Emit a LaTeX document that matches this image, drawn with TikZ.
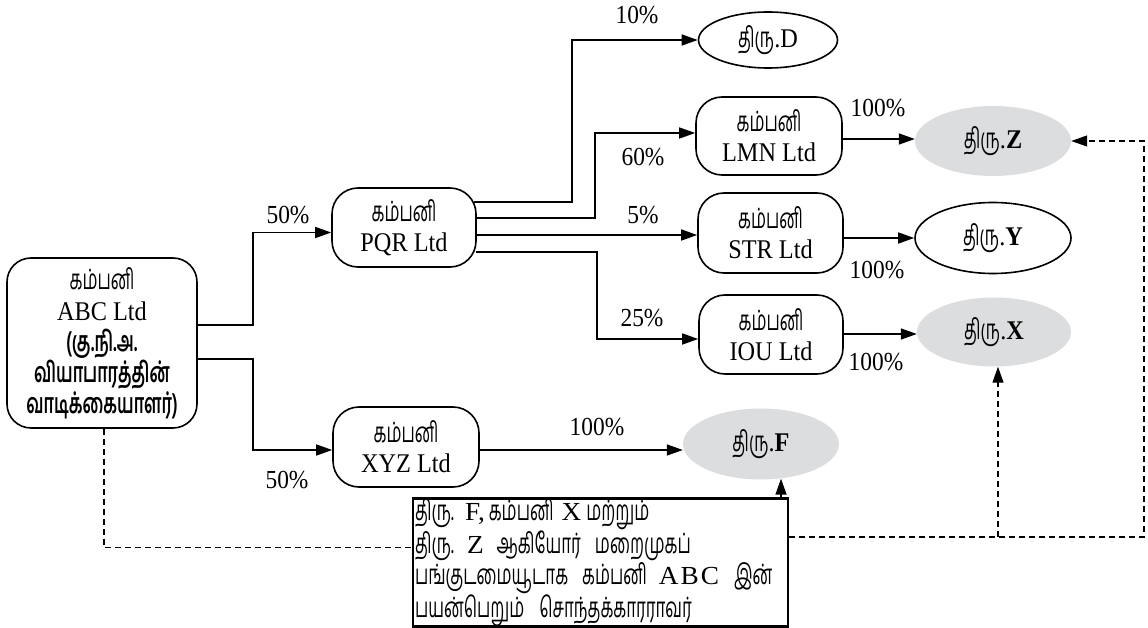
\documentclass[tikz,border=0pt]{standalone}
\usepackage{fontspec}
\setmainfont{Liberation Serif}[FakeStretch=0.9]
\newfontfamily\nl{Liberation Serif}[FakeStretch=1.05]
\newfontfamily\ta[Script=Tamil,FakeStretch=0.6]{Hind Madurai}
\usetikzlibrary{arrows.meta,shapes.geometric}
\definecolor{egray}{RGB}{220,221,223}
\newcommand\tco[1]{{\ta\fontsize{28}{30}\selectfont #1}}
\newcommand\tab[1]{{\ta\bfseries\fontsize{28}{31}\selectfont #1}}
\newcommand\tno[1]{{\ta\fontsize{28}{31}\selectfont #1}}
\newcommand\tel[1]{{\ta\fontsize{28}{30}\selectfont #1}}
\begin{document}
\begin{tikzpicture}[x=1pt,y=-1pt,
  co/.style={draw, line width=1.6pt, rounded corners=26pt, minimum width=145pt, minimum height=79pt, inner sep=0pt, align=center, font=\fontsize{27}{30}\selectfont},
  el/.style={ellipse, minimum width=156pt, minimum height=70pt, inner sep=0pt, font=\fontsize{27}{30}\selectfont},
  pe/.style={el, fill=egray},
  pw/.style={el, draw, line width=1.6pt},
  lab/.style={inner sep=0pt, font=\fontsize{26}{30}\selectfont},
  arr/.style={line width=1.5pt, -{Triangle[length=16pt,width=11pt]}},
  dsh/.style={line width=1.2pt, dash pattern=on 6pt off 4pt},
  darr/.style={dsh, -{Triangle[length=16pt,width=11pt]}}]
\useasboundingbox (0,0) rectangle (1148,628);

% nodes
\node[co, minimum width=190pt, minimum height=170pt, rounded corners=24pt, font=\fontsize{27}{31}\selectfont] (ABC) at (102,343)
  {\tco{கம்பனி}\\ABC Ltd\\\tab{(கு.நி.அ.}\\\tab{வியாபாரத்தின்}\\\tab{வாடிக்கையாளர்)}};
\node[co, minimum width=144pt] (PQR) at (404,227.5) {\tco{கம்பனி}\\PQR Ltd};
\node[co, minimum width=146pt, minimum height=80pt] (XYZ) at (406,447) {\tco{கம்பனி}\\XYZ Ltd};
\node[co, minimum width=146pt, minimum height=78pt] (LMN) at (769,136) {\tco{கம்பனி}\\LMN Ltd};
\node[co, minimum height=80pt] (STR) at (770.5,233) {\tco{கம்பனி}\\STR Ltd};
\node[co, minimum width=144pt] (IOU) at (771,334.5) {\tco{கம்பனி}\\IOU Ltd};

\node[pw, minimum width=139pt, minimum height=56pt] (D) at (768,40) {\tel{திரு}.D};
\node[pe] (Z) at (993,141) {\tel{திரு}.\textbf{Z}};
\node[pw, minimum height=71pt] (Y) at (993,238) {\tel{திரு}.\textbf{Y}};
\node[pe, minimum width=154pt, minimum height=69pt] (X) at (994,332) {\tel{திரு}.\textbf{X}};
\node[pe, minimum height=71pt] (F) at (761,444) {\tel{திரு}.\textbf{F}};

\node[draw, line width=2.5pt, minimum height=125pt, text width=371pt, inner xsep=2pt, inner ysep=0pt, align=left, font=\nl\fontsize{26}{31}\selectfont] (note) at (600.5,562.5)
  {\tno{திரு.}\hspace{11pt}F,\hspace{4pt}\tno{கம்பனி}\hspace{8pt}X\hspace{5pt}\tno{மற்றும்}\\
   \tno{திரு.}\hspace{13pt}Z\hspace{13pt}\tno{ஆகியோர்}\hspace{14pt}\tno{மறைமுகப்}\\
   \tno{பங்குடமையூடாக}\hspace{14pt}\tno{கம்பனி}\hspace{12pt}A\hspace{2pt}B\hspace{2pt}C\hspace{15pt}\tno{இன்}\\
   \tno{பயன்பெறும்}\hspace{15pt}\tno{சொந்தக்காரராவர்}};

% solid connectors
\draw[arr] ([yshift=18pt]ABC.east) -- ++(55,0) |- ([yshift=-5pt]PQR.west);
\draw[arr] ([yshift=-16pt]ABC.east) -- ++(55,0) |- ([yshift=-3pt]XYZ.west);
\draw[arr] ([xshift=-3pt,yshift=25.5pt]PQR.east) -- ++(98,0) |- (D.west);
\draw[arr] ([yshift=9.5pt]PQR.east) -- ++(118,0) |- ([yshift=3pt]LMN.west);
\draw[arr] ([yshift=-7.5pt]PQR.east) -- ([yshift=-2pt]STR.west);
\draw[arr] ([xshift=-1pt,yshift=-24.5pt]PQR.east) -- ++(121,0) |- ([yshift=-4.5pt]IOU.west);
\draw[arr] ([yshift=-3pt]LMN.east) -- ([yshift=2pt]Z.west);
\draw[arr] ([yshift=-5pt]STR.east) -- (Y.west);
\draw[arr] ([yshift=0.5pt]IOU.east) -- ([yshift=-2pt]X.west);
\draw[arr] ([yshift=-3pt]XYZ.east) -- ([yshift=-6pt]F.west);
\draw[arr] ([xshift=20pt]F.south |- note.north) -- ([xshift=20pt,yshift=1pt]F.south);

% dashed connectors
\coordinate (cr) at (1144,537);
\draw[dsh] ([xshift=2pt]ABC.south) |- ([yshift=15pt]note.west);
\draw[darr] ([yshift=25.5pt]note.east) -- (cr) |- (Z.east);
\draw[darr] ([xshift=4pt]X.south |- cr) -- ([xshift=4pt]X.south);

% labels
\node[lab] (l1) at (288,215) {50\%};
\node[lab] (l2) at (287,480) {50\%};
\node[lab] (l3) at (637,15) {10\%};
\node[lab] (l4) at (643,157) {60\%};
\node[lab] (l5) at (643,215) {5\%};
\node[lab] (l6) at (642,318) {25\%};
\node[lab] (l7) at (878,108) {100\%};
\node[lab] (l8) at (877,270) {100\%};
\node[lab] (l9) at (876,362) {100\%};
\node[lab] (l10) at (597,427) {100\%};
\end{tikzpicture}
\end{document}
